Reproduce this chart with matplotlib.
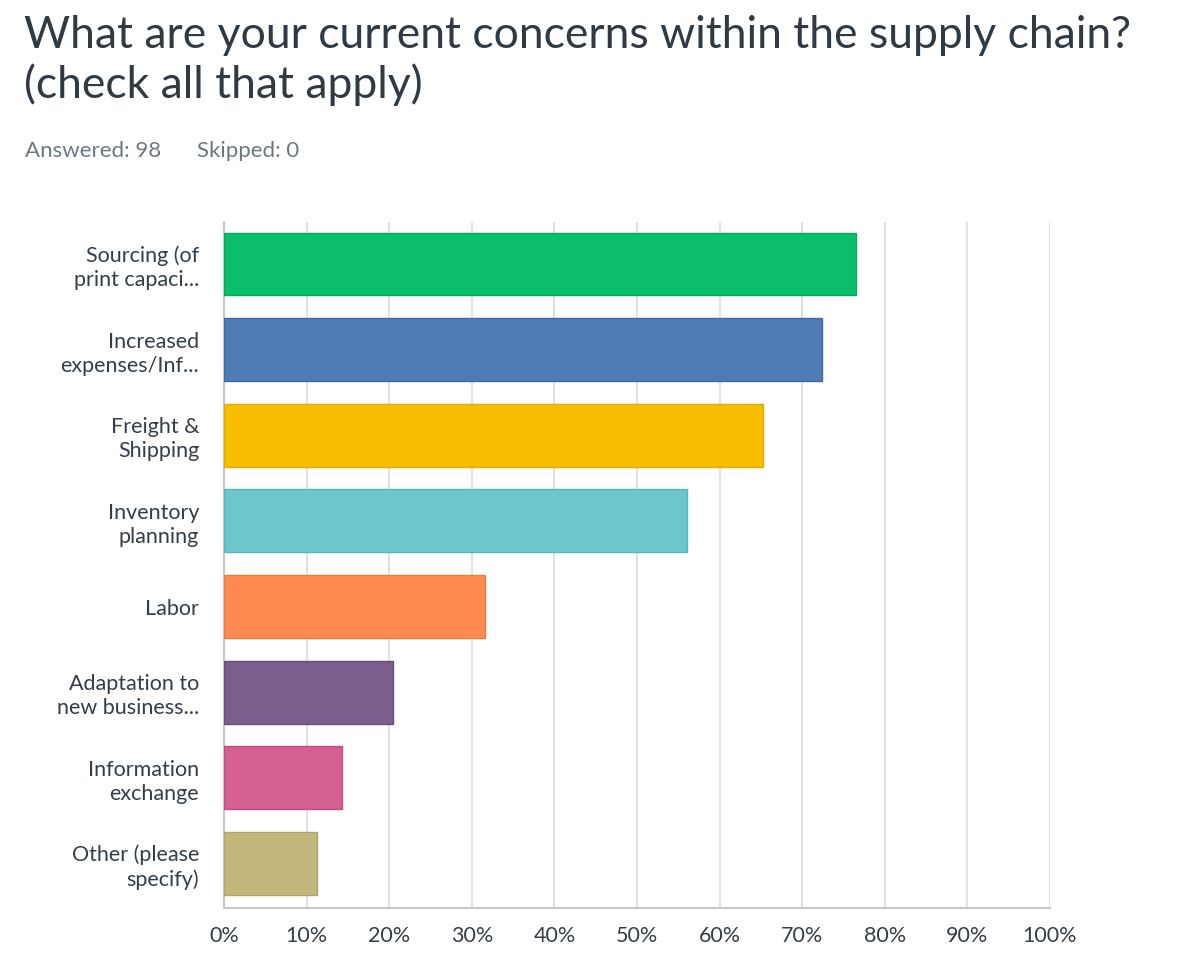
# SurveyMonkey 风格横向条形图: 供应链担忧
import matplotlib
matplotlib.use("Agg")
import matplotlib.pyplot as plt

labels = ["Sourcing (of\nprint capaci...", "Increased\nexpenses/Inf...", "Freight &\nShipping",
          "Inventory\nplanning", "Labor", "Adaptation to\nnew business...",
          "Information\nexchange", "Other (please\nspecify)"]
pct = [76.5, 72.4, 65.3, 56.1, 31.6, 20.4, 14.3, 11.2]
colors = ["#0abf6b", "#507cb6", "#f9be00", "#6cc7cc", "#ff8b50", "#7c5e8e", "#d46090", "#c4b77b"]
edges = ["#07a85d", "#3f6aa3", "#e0aa00", "#58b6bb", "#ec7a40", "#6a4e7c", "#c04f7e", "#b3a66a"]
ticks = list(range(0, 101, 10))

plt.rcParams["font.family"] = ["Lato", "DejaVu Sans"]

fig = plt.figure(figsize=(12, 9.64), dpi=100)
fig.text(0.02, 0.984, "What are your current concerns within the supply chain?\n(check all that apply)",
         fontsize=32, color="#2f3a45", va="top", ha="left", linespacing=1.2)
fig.text(0.021, 0.843, "Answered: 98", fontsize=16, color="#6b7884", va="center")
fig.text(0.164, 0.843, "Skipped: 0", fontsize=16, color="#6b7884", va="center")

ax = fig.add_axes([0.1867, 0.0581, 0.6883, 0.7116])
y = list(range(len(labels)))
ax.barh(y, pct, height=0.735, color=colors, edgecolor=edges, linewidth=1, zorder=3)
ax.set_ylim(7.52, -0.49)
ax.set_xlim(0, 100)
ax.set_xticks(ticks)
ax.set_xticklabels([f"{t}%" for t in ticks], fontsize=15.5, color="#333e48")
ax.set_yticks(y)
ax.set_yticklabels(labels, fontsize=15.5, color="#333e48", linespacing=1.25)
ax.tick_params(axis="both", length=0)
ax.tick_params(axis="x", pad=13)
ax.tick_params(axis="y", pad=18)
ax.grid(axis="x", color="#e2e2e2", linewidth=1.5, zorder=0)
for s in ["top", "right"]:
    ax.spines[s].set_visible(False)
ax.spines["left"].set_color("#c8c8c8")
ax.spines["bottom"].set_color("#c8c8c8")
ax.spines["left"].set_linewidth(1.5)
ax.spines["bottom"].set_linewidth(1.5)

fig.savefig("out.png", dpi=100, facecolor="white")
